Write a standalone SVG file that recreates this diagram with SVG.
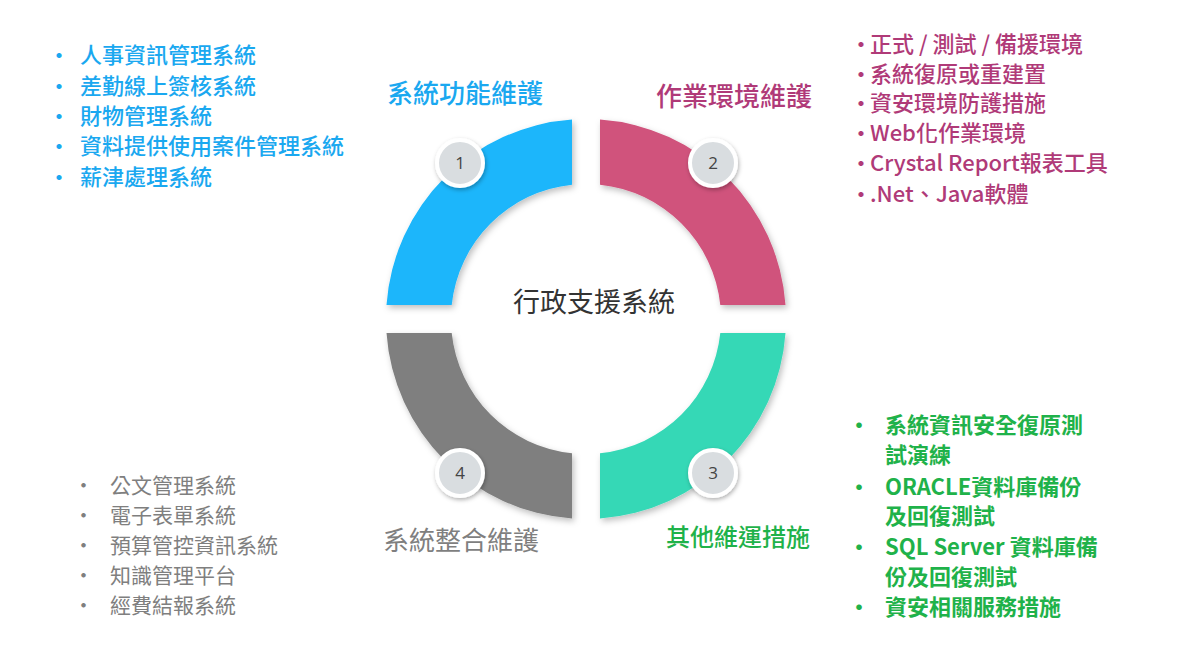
<svg xmlns="http://www.w3.org/2000/svg" width="1200" height="652" viewBox="0 0 1200 652">
<defs>
<filter id="sh" x="-20%" y="-20%" width="140%" height="140%"><feDropShadow dx="2" dy="3" stdDeviation="3" flood-color="#000" flood-opacity="0.25"/></filter>
<filter id="sh2" x="-40%" y="-40%" width="180%" height="180%"><feDropShadow dx="1" dy="2" stdDeviation="2" flood-color="#000" flood-opacity="0.3"/></filter>
</defs>
<style>
text{font-family:"Noto Sans CJK TC","Noto Sans",sans-serif}
.b{fill:#1aa8f0;font-size:22px;font-weight:500}
.p{fill:#b03a78;font-size:22px;font-weight:500}
.g{fill:#1fb24a;font-size:22px;font-weight:700}
.k{fill:#7f7f7f;font-size:21px}
.num{fill:#444;font-size:17px;text-anchor:middle;font-family:"Open Sans",sans-serif}
.badge{fill:#d9dde0;stroke:#fff;stroke-width:4}
</style>
<rect width="1200" height="652" fill="#fff"/>
<g id="ring" filter="url(#sh)">
<path id="q1" d="M386.5 305 A200 200 0 0 1 572 119.5 L572 184.7 A135 135 0 0 0 451.7 305 Z" fill="#1ab6fb"/>
<path id="q2" d="M600 119.5 A200 200 0 0 1 785.5 305 L720.3 305 A135 135 0 0 0 600 184.7 Z" fill="#d0527c"/>
<path id="q3" d="M785.5 333 A200 200 0 0 1 600 518.5 L600 453.3 A135 135 0 0 0 720.3 333 Z" fill="#36d8b6"/>
<path id="q4" d="M572 518.5 A200 200 0 0 1 386.5 333 L451.7 333 A135 135 0 0 0 572 453.3 Z" fill="#7f7f7f"/>
</g>
<g id="n1"><circle class="badge" cx="460" cy="163" r="23" filter="url(#sh2)"/><text class="num" x="460" y="169">1</text></g>
<g id="n2"><circle class="badge" cx="713" cy="163" r="23" filter="url(#sh2)"/><text class="num" x="713" y="169">2</text></g>
<g id="n3"><circle class="badge" cx="713" cy="473" r="23" filter="url(#sh2)"/><text class="num" x="713" y="479">3</text></g>
<g id="n4"><circle class="badge" cx="460" cy="473" r="23" filter="url(#sh2)"/><text class="num" x="460" y="479">4</text></g>
<g id="center"><text x="594" y="312" text-anchor="middle" font-size="27" fill="#333">行政支援系統</text></g>
<g id="t1"><text x="465" y="103" text-anchor="middle" font-size="26" fill="#1aa8f0" font-weight="500">系統功能維護</text></g>
<g id="t2"><text x="734" y="106" text-anchor="middle" font-size="26" fill="#b03a78" font-weight="500">作業環境維護</text></g>
<g id="t3"><text x="738" y="546" text-anchor="middle" font-size="24" fill="#1fb24a" font-weight="500">其他維運措施</text></g>
<g id="t4"><text x="461" y="550" text-anchor="middle" font-size="26" fill="#7f7f7f">系統整合維護</text></g>
<g id="list1" class="b">
<text class="b" x="48" y="63">•</text><text class="b" x="80" y="63">人事資訊管理系統</text>
<text class="b" x="48" y="94">•</text><text class="b" x="80" y="94">差勤線上簽核系統</text>
<text class="b" x="48" y="124">•</text><text class="b" x="80" y="124">財物管理系統</text>
<text class="b" x="48" y="154">•</text><text class="b" x="80" y="154">資料提供使用案件管理系統</text>
<text class="b" x="48" y="185">•</text><text class="b" x="80" y="185">薪津處理系統</text>
</g>
<g id="list2">
<text class="p" x="850" y="52">•</text><text class="p" x="870" y="52">正式 / 測試 / 備援環境</text>
<text class="p" x="850" y="82">•</text><text class="p" x="870" y="82">系統復原或重建置</text>
<text class="p" x="850" y="111">•</text><text class="p" x="870" y="111">資安環境防護措施</text>
<text class="p" x="850" y="141">•</text><text class="p" x="870" y="141">Web化作業環境</text>
<text class="p" x="850" y="171">•</text><text class="p" x="870" y="171">Crystal Report報表工具</text>
<text class="p" x="850" y="202">•</text><text class="p" x="870" y="202">.Net、Java軟體</text>
</g>
<g id="list3">
<text class="g" x="848" y="433">•</text><text class="g" x="885" y="433">系統資訊安全復原測</text>
<text class="g" x="885" y="463">試演練</text>
<text class="g" x="848" y="495">•</text><text class="g" x="885" y="495">ORACLE資料庫備份</text>
<text class="g" x="885" y="524">及回復測試</text>
<text class="g" x="848" y="555">•</text><text class="g" x="885" y="555">SQL Server 資料庫備</text>
<text class="g" x="885" y="585">份及回復測試</text>
<text class="g" x="848" y="615">•</text><text class="g" x="885" y="615">資安相關服務措施</text>
</g>
<g id="list4">
<text class="k" x="73" y="493">•</text><text class="k" x="110" y="493">公文管理系統</text>
<text class="k" x="73" y="523">•</text><text class="k" x="110" y="523">電子表單系統</text>
<text class="k" x="73" y="553">•</text><text class="k" x="110" y="553">預算管控資訊系統</text>
<text class="k" x="73" y="583">•</text><text class="k" x="110" y="583">知識管理平台</text>
<text class="k" x="73" y="613">•</text><text class="k" x="110" y="613">經費結報系統</text>
</g>
<g id="connectors"/>
</svg>
